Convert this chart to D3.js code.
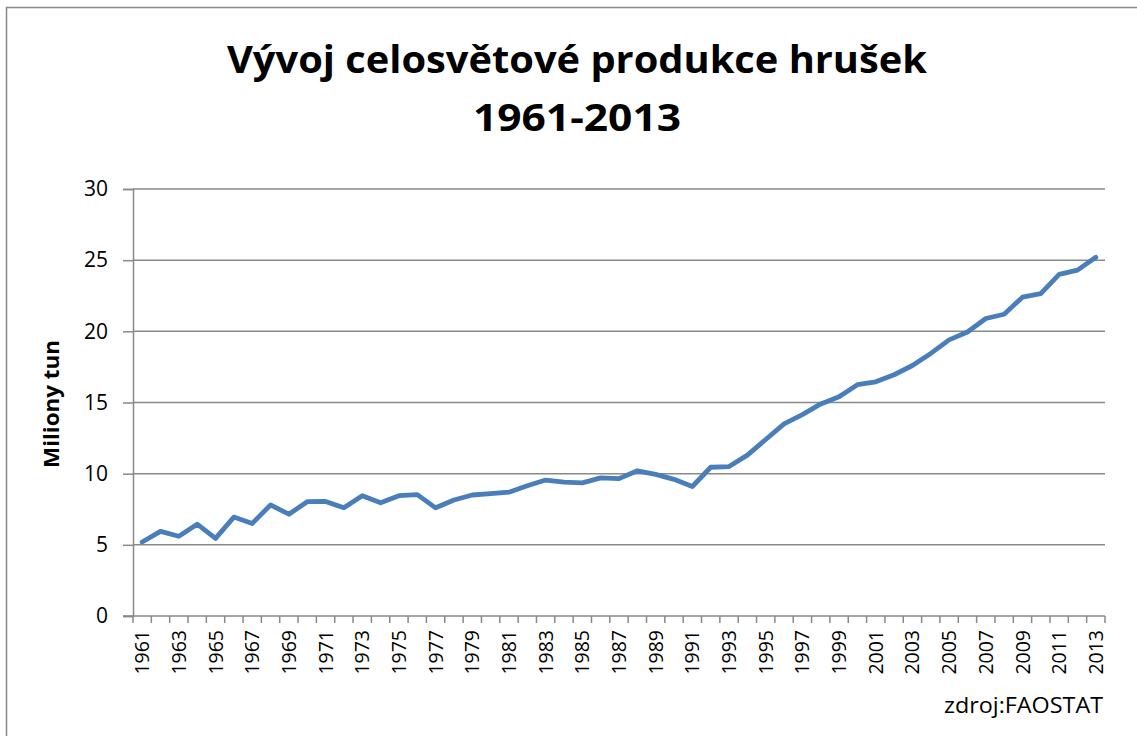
<!DOCTYPE html>
<html>
<head>
<meta charset="utf-8">
<script src="https://cdn.jsdelivr.net/npm/d3@7"></script>
<style>
  body { margin: 0; background: #fff; }
  svg text { font-family: "Open Sans", "Noto Sans", sans-serif; fill: #000; }
</style>
</head>
<body>
<svg id="chart" width="1137" height="736"></svg>
<script>
// data (milion tun)
const years = d3.range(1961, 2014);
const production = [
    5.2, 5.95, 5.6, 6.45, 5.45, 6.95, 6.5, 7.8, 7.15, 8.03,
    8.05, 7.6, 8.45, 7.95, 8.45, 8.53, 7.6, 8.15, 8.5, 8.6,
    8.7, 9.15, 9.55, 9.4, 9.35, 9.7, 9.65, 10.2, 9.95, 9.6,
    9.1, 10.45, 10.5, 11.3, 12.4, 13.5, 14.15, 14.9, 15.4, 16.25,
    16.45, 16.95, 17.6, 18.45, 19.4, 19.95, 20.9, 21.2, 22.4, 22.65,
    24.0, 24.3, 25.2
];
const yTicks = [0, 5, 10, 15, 20, 25, 30];
const titleLines = ["Vývoj celosvětové produkce hrušek", "1961-2013"];
const yLabel = "Miliony tun";
const source = "zdroj:FAOSTAT";

const svg = d3.select('#chart');
const gridColor = '#898989';
const lineColor = '#4a7ebb';

const plot = {left: 133, right: 1105, top: 189, bottom: 616};

// outer chart frame, runs off right/bottom like the reference
svg.append('rect')
    .attr('x', 6.5).attr('y', 7.5)
    .attr('width', 1160).attr('height', 760)
    .attr('fill', 'none')
    .attr('stroke', gridColor)
    .attr('stroke-width', 1.5);

const x = d3.scaleBand()
    .domain(years)
    .range([plot.left, plot.right])
    .paddingInner(0).paddingOuter(0);

const y = d3.scaleLinear()
    .domain([0, 30])
    .range([plot.bottom, plot.top]);

// title
const titleBase = [73, 131];
const titleWidth = [700, 208];
titleLines.forEach((t, i) => {
    svg.append('text')
        .attr('x', 577).attr('y', titleBase[i])
        .attr('text-anchor', 'middle')
        .attr('font-size', 38)
        .attr('font-weight', 'bold')
        .attr('textLength', titleWidth[i])
        .attr('lengthAdjust', 'spacingAndGlyphs')
        .text(t);
});

// horizontal gridlines
svg.append('g')
    .selectAll('line')
    .data(yTicks.filter(d => d > 0))
    .join('line')
    .attr('x1', plot.left).attr('x2', plot.right)
    .attr('y1', d => y(d)).attr('y2', d => y(d))
    .attr('stroke', gridColor)
    .attr('stroke-width', 1.5);

// y axis
const yAxis = svg.append('g')
    .attr('transform', `translate(${plot.left},0)`)
    .call(d3.axisLeft(y).tickValues(yTicks).tickSize(10).tickPadding(15));
yAxis.select('.domain').attr('stroke', gridColor).attr('stroke-width', 1.5);
yAxis.selectAll('.tick line').attr('stroke', gridColor).attr('stroke-width', 1.5);
yAxis.selectAll('.tick text')
    .attr('font-size', 21)
    .attr('font-family', '"Open Sans", sans-serif')
    .attr('fill', '#000');

// x axis: ticks on category boundaries
const xg = svg.append('g');
xg.append('line')
    .attr('x1', plot.left - 10).attr('x2', plot.right)
    .attr('y1', plot.bottom).attr('y2', plot.bottom)
    .attr('stroke', gridColor).attr('stroke-width', 1.5);
xg.selectAll('line.tk')
    .data(years.concat([2014]))
    .join('line')
    .attr('class', 'tk')
    .attr('x1', d => d === 2014 ? plot.right : x(d))
    .attr('x2', d => d === 2014 ? plot.right : x(d))
    .attr('y1', plot.bottom).attr('y2', plot.bottom + 7)
    .attr('stroke', gridColor).attr('stroke-width', 1.5);
xg.selectAll('text')
    .data(years.filter((d, i) => i % 2 === 0))
    .join('text')
    .attr('transform', d => `translate(${x(d) + x.bandwidth() / 2},630) rotate(-90)`)
    .attr('text-anchor', 'end')
    .attr('dy', '0.36em')
    .attr('font-size', 19.5)
    .text(d => d);

// y label
svg.append('text')
    .attr('transform', 'translate(59,404) rotate(-90)')
    .attr('text-anchor', 'middle')
    .attr('font-size', 21)
    .attr('font-weight', 'bold')
    .attr('textLength', 128)
    .attr('lengthAdjust', 'spacingAndGlyphs')
    .text(yLabel);

// the series
const line = d3.line()
    .x((d, i) => x(years[i]) + x.bandwidth() / 2)
    .y(d => y(d));

svg.append('path')
    .datum(production)
    .attr('d', line)
    .attr('fill', 'none')
    .attr('stroke', lineColor)
    .attr('stroke-width', 4.8)
    .attr('stroke-linejoin', 'round')
    .attr('stroke-linecap', 'round');

// source note
svg.append('text')
    .attr('x', 1103).attr('y', 713)
    .attr('text-anchor', 'end')
    .attr('font-size', 21)
    .attr('textLength', 159)
    .attr('lengthAdjust', 'spacingAndGlyphs')
    .text(source);
</script>
</body>
</html>
